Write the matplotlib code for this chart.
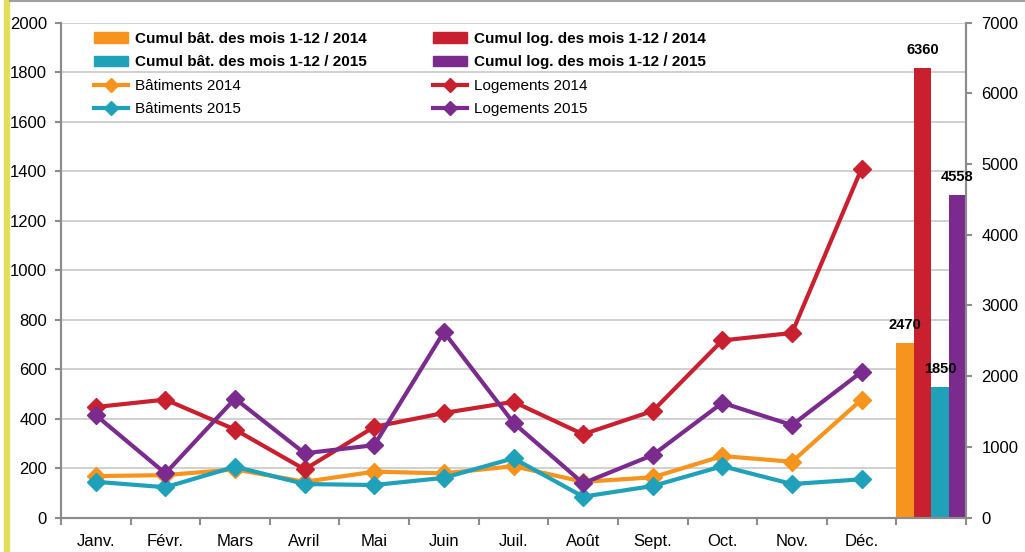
import matplotlib
matplotlib.use("Agg")
import matplotlib.pyplot as plt
from matplotlib.lines import Line2D
from matplotlib.patches import Rectangle
import numpy as np

plt.rcParams['font.family'] = ['Liberation Sans', 'DejaVu Sans']

mois = ["Janv.", "Févr.", "Mars", "Avril", "Mai", "Juin",
        "Juil.", "Août", "Sept.", "Oct.", "Nov.", "Déc."]

# monthly values (left axis)
bat_2014 = [168, 172, 195, 145, 186, 179, 208, 145, 163, 249, 226, 477]
bat_2015 = [145, 123, 206, 136, 132, 161, 240, 85, 128, 208, 136, 155]
log_2014 = [447, 477, 356, 195, 367, 423, 468, 337, 431, 716, 746, 1410]
log_2015 = [414, 179, 481, 260, 293, 750, 383, 139, 253, 464, 374, 589]

# yearly totals (right axis)
cumul_noms = ["Cumul bât. des mois 1-12 / 2014", "Cumul log. des mois 1-12 / 2014",
              "Cumul bât. des mois 1-12 / 2015", "Cumul log. des mois 1-12 / 2015"]
cumul_vals = [2470, 6360, 1850, 4558]

c_orange = "#F7941D"
c_red = "#C8202F"
c_teal = "#1FA1BA"
c_purple = "#7B2A8E"
bar_colors = [c_orange, c_red, c_teal, c_purple]

fig = plt.figure(figsize=(10.25, 5.52), dpi=100)
ax = fig.add_axes([61/1025, 1 - 517.7/552, 905/1025, 495.2/552])
ax2 = ax.twinx()

x = np.arange(len(mois))
lw = 3.0
ms = 9
l_bat14, = ax.plot(x, bat_2014, color=c_orange, lw=lw, marker="D", ms=ms, label="Bâtiments 2014")
l_bat15, = ax.plot(x, bat_2015, color=c_teal, lw=lw, marker="D", ms=ms, label="Bâtiments 2015")
l_log14, = ax.plot(x, log_2014, color=c_red, lw=lw, marker="D", ms=ms, label="Logements 2014")
l_log15, = ax.plot(x, log_2015, color=c_purple, lw=lw, marker="D", ms=ms, label="Logements 2015")

# bars in the 13th (blank) category
bw = 0.25
offsets = np.array([-1.5, -0.5, 0.5, 1.5]) * bw
bars = ax2.bar(12 + offsets, cumul_vals, width=bw, color=bar_colors)
for b, v in zip(bars, cumul_vals):
    ax2.annotate(str(v), (b.get_x() + b.get_width() / 2, v), xytext=(0, 8),
                 textcoords="offset points", ha="center", va="bottom",
                 fontsize=10.5, fontweight="bold")

ax.set_xlim(-0.5, 12.5)
ax.set_ylim(0, 2000)
ax.set_yticks(np.arange(0, 2001, 200))
ax2.set_ylim(0, 7000)
ax2.set_yticks(np.arange(0, 7001, 1000))

ax.set_xticks(np.arange(-0.5, 13, 1))
ax.set_xticklabels([])
ax.set_xticks(x, minor=True)
ax.set_xticklabels(mois, minor=True)
ax.tick_params(axis="x", which="minor", length=0, pad=12, labelsize=12)
ax.tick_params(axis="x", which="major", length=5, width=1.5, color="#8c8c8c")
ax.tick_params(axis="y", length=4, width=1.5, color="#8c8c8c", labelsize=12, pad=6)
ax2.tick_params(axis="y", length=4, width=1.5, color="#8c8c8c", labelsize=12, pad=7)

ax.grid(axis="y", color="#c8c8c8", lw=1.2)
ax.set_axisbelow(True)
for a in (ax, ax2):
    a.spines["top"].set_visible(False)
    for s in ("left", "right", "bottom"):
        a.spines[s].set_color("#8c8c8c")
        a.spines[s].set_linewidth(1.5)

handles = [Rectangle((0, 0), 1, 1, color=c_orange), Rectangle((0, 0), 1, 1, color=c_teal),
           l_bat14, l_bat15,
           Rectangle((0, 0), 1, 1, color=c_red), Rectangle((0, 0), 1, 1, color=c_purple),
           l_log14, l_log15]
labels = [cumul_noms[0], cumul_noms[2], "Bâtiments 2014", "Bâtiments 2015",
          cumul_noms[1], cumul_noms[3], "Logements 2014", "Logements 2015"]
leg = ax2.legend(handles, labels, ncol=2, loc="upper left", bbox_to_anchor=(0.0365, 0.981),
                 frameon=False, fontsize=11, borderaxespad=0, borderpad=0,
                 handlelength=2.2, handletextpad=0.45, labelspacing=0.62,
                 columnspacing=4.4, markerscale=0.75)
for i, t in enumerate(leg.get_texts()):
    if labels[i].startswith("Cumul"):
        t.set_fontweight("bold")

# page decorations: yellow stripe on the left and grey line on top
fig.patches.append(Rectangle((3.5/1025, 0), 5/1025, 1, transform=fig.transFigure,
                             color="#E0E05A", zorder=0))
fig.lines.append(Line2D([10/1025, 1], [0.999, 0.999], transform=fig.transFigure,
                        color="#a0a0a0", lw=1.5))

fig.savefig("out.png", dpi=100)
